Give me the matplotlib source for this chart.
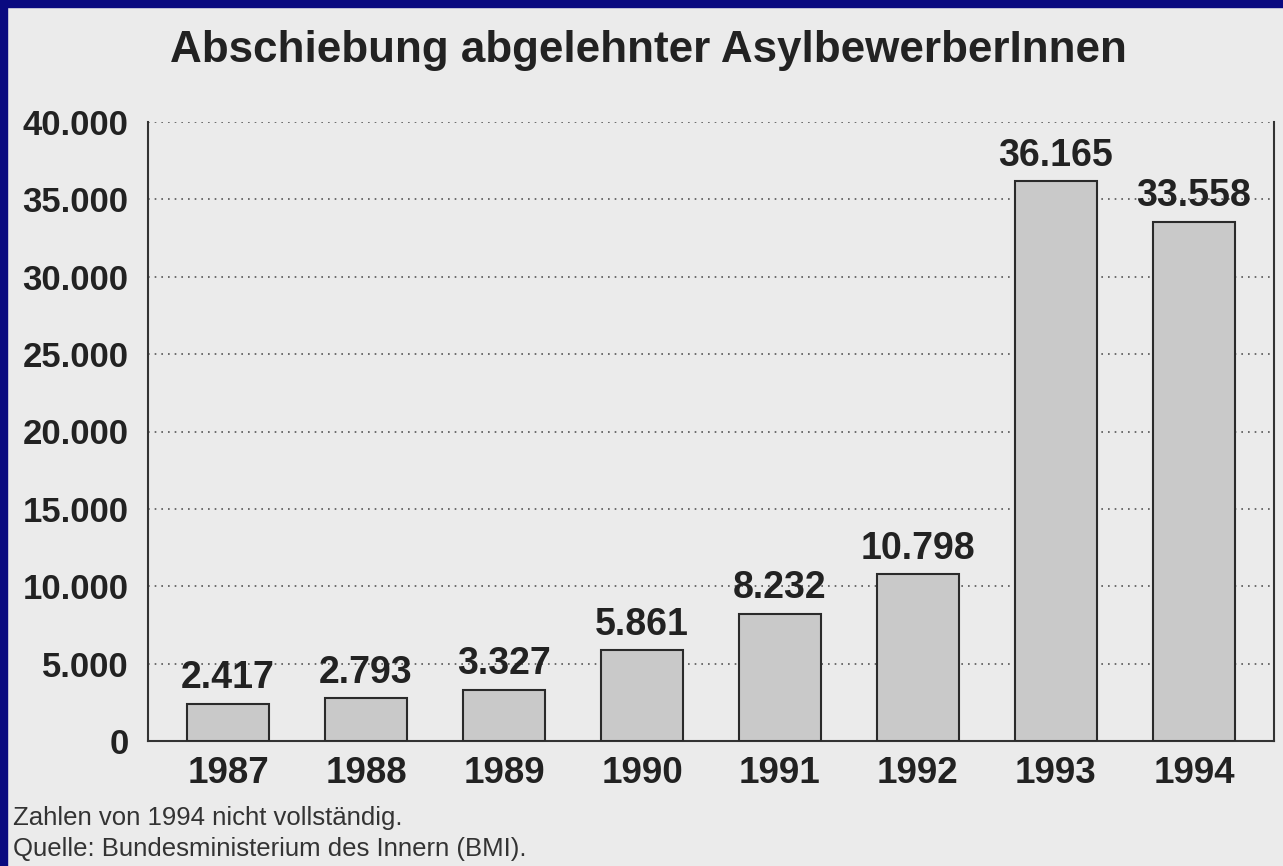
import matplotlib
matplotlib.use("Agg")
import matplotlib.pyplot as plt
from matplotlib.patches import Rectangle

years = ["1987", "1988", "1989", "1990", "1991", "1992", "1993", "1994"]
values = [2417, 2793, 3327, 5861, 8232, 10798, 36165, 33558]
value_labels = ["2.417", "2.793", "3.327", "5.861", "8.232", "10.798", "36.165", "33.558"]
yticks = [0, 5000, 10000, 15000, 20000, 25000, 30000, 35000, 40000]
ytick_labels = ["0", "5.000", "10.000", "15.000", "20.000", "25.000", "30.000", "35.000", "40.000"]
title = "Abschiebung abgelehnter AsylbewerberInnen"
footer = ["Zahlen von 1994 nicht vollständig.", "Quelle: Bundesministerium des Innern (BMI)."]

plt.rcParams['font.family'] = ['Liberation Sans', 'DejaVu Sans']

W, H = 1283, 866
bg = '#ebebeb'
navy = '#0a0a80'
fig = plt.figure(figsize=(W / 100, H / 100), dpi=100)
fig.patch.set_facecolor(bg)

ax = fig.add_axes([148 / W, 1 - 741 / H, (1274 - 148) / W, (741 - 122) / H])
ax.set_facecolor(bg)
x = list(range(len(years)))
ax.bar(x, values, width=0.6, color='#c9c9c9', edgecolor='#2a2a2a', linewidth=1.5, zorder=3)
for xi, v, lab in zip(x, values, value_labels):
    ax.annotate(lab, (xi, v), xytext=(0, 11), textcoords='offset points',
                ha='center', va='baseline', fontsize=27, fontweight='bold', color='#222222')

ax.set_xlim(-0.58, 7.58)
ax.set_ylim(0, 40000)
ax.set_yticks(yticks)
ax.set_yticklabels(ytick_labels)
ax.set_xticks(x)
ax.set_xticklabels(years)
ax.tick_params(axis='y', length=0, pad=14, labelsize=25, labelcolor='#222222')
ax.tick_params(axis='x', length=0, pad=11, labelsize=26.5, labelcolor='#222222')
for lab in ax.get_xticklabels() + ax.get_yticklabels():
    lab.set_fontweight('bold')

for t in yticks[1:]:
    ax.axhline(t, color='#555555', linestyle=(0, (1, 3)), linewidth=1.2, zorder=1)

ax.spines['top'].set_visible(False)
for s in ['left', 'right', 'bottom']:
    ax.spines[s].set_color('#333333')
    ax.spines[s].set_linewidth(1.5)

fig.text(170 / W, 1 - 62 / H, title, fontsize=31.7, fontweight='bold', color='#222222',
         ha='left', va='baseline')
fig.text(13 / W, 1 - 825 / H, footer[0], fontsize=18.5, color='#333333', ha='left', va='baseline')
fig.text(13 / W, 1 - 856 / H, footer[1], fontsize=18.5, color='#333333', ha='left', va='baseline')

fig.patches.append(Rectangle((0, 0), 7 / W, 1, transform=fig.transFigure, color=navy, zorder=10))
fig.patches.append(Rectangle((0, 1 - 7 / H), 1, 7 / H, transform=fig.transFigure, color=navy, zorder=10))

fig.savefig("out.png", dpi=100, facecolor=fig.get_facecolor())
